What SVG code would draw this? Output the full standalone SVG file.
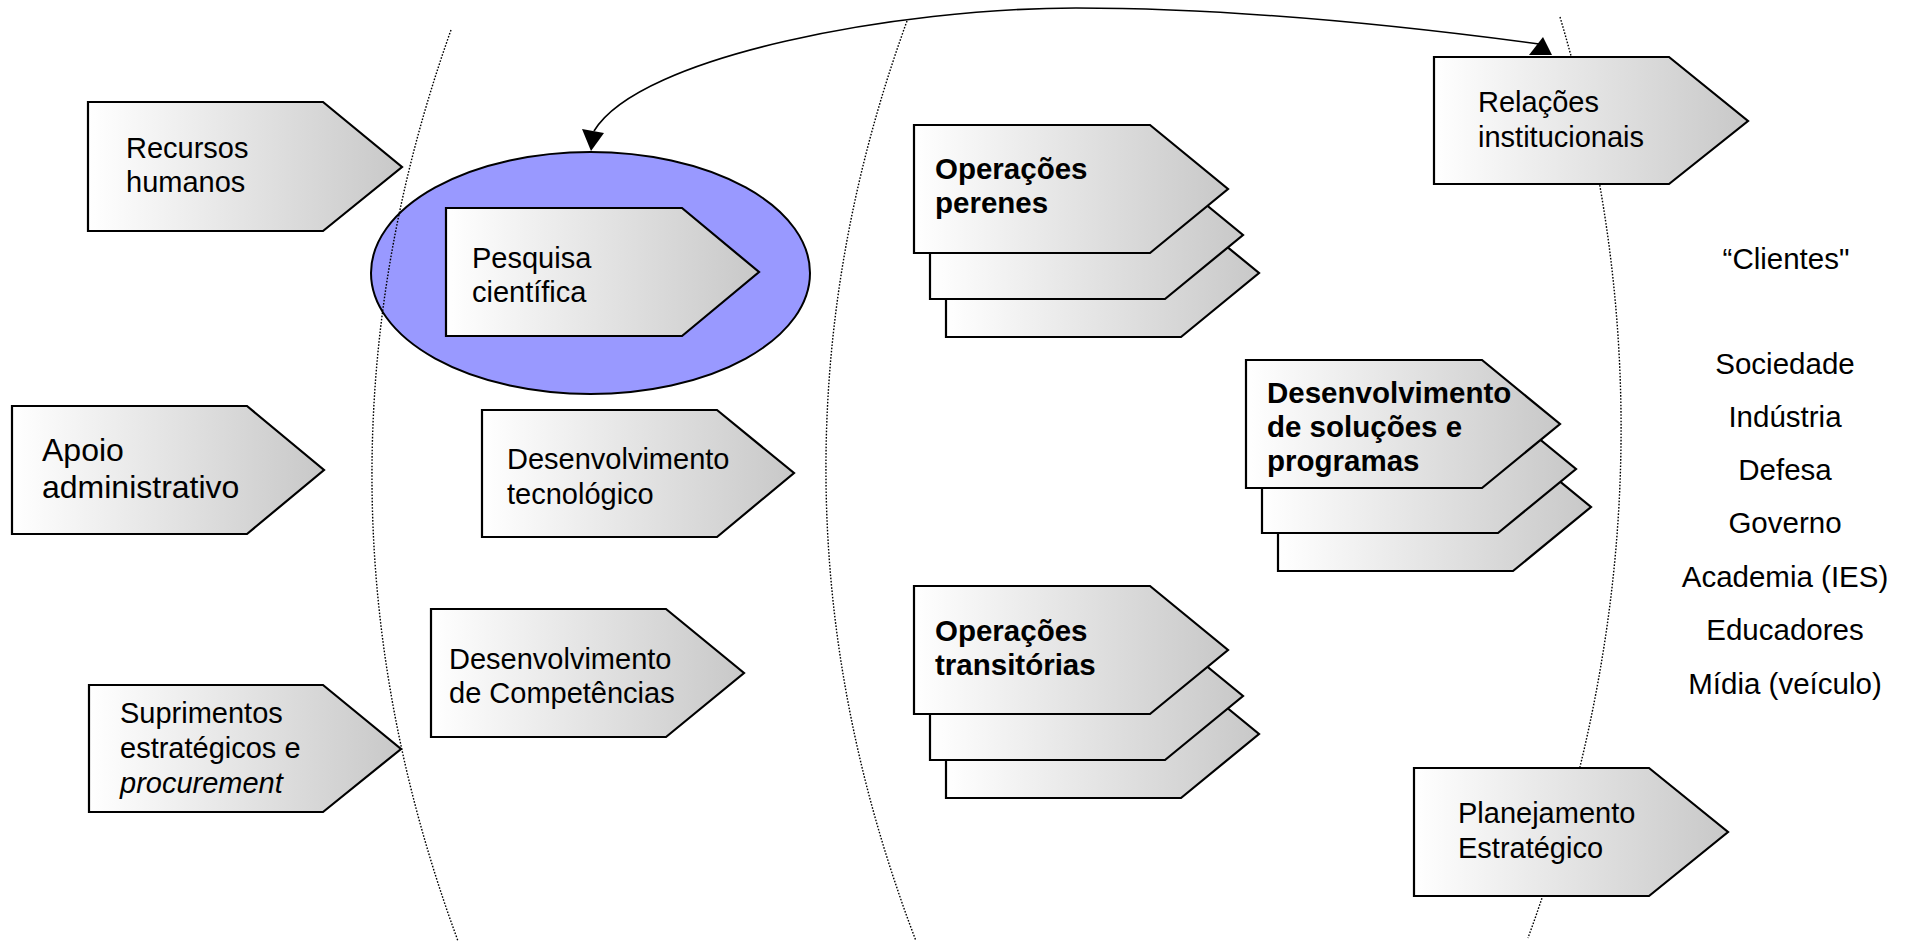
<svg xmlns="http://www.w3.org/2000/svg" width="1905" height="941" viewBox="0 0 1905 941">
<defs>
<linearGradient id="g" x1="0" y1="0" x2="1" y2="0">
<stop offset="0" stop-color="#ffffff"/>
<stop offset="1" stop-color="#c8c8c8"/>
</linearGradient>
<style>
.box{fill:url(#g);stroke:#000;stroke-width:2.2;stroke-linejoin:miter}
.t{font-family:"Liberation Sans",Arial,sans-serif;font-size:29px;fill:#000}
.b{font-weight:bold;font-size:29.5px}
.big{font-size:32px}
.cl{font-family:"Liberation Sans",Arial,sans-serif;font-size:29.5px;fill:#000;text-anchor:middle}
.dot{fill:none;stroke:#000;stroke-width:1.4;stroke-dasharray:1.6 1.6}
.con{fill:none;stroke:#000;stroke-width:1.6}
</style>
</defs>
<rect width="1905" height="941" fill="#fff"/>

<ellipse id="pesquisa-highlight" cx="590.5" cy="273" rx="219.5" ry="121" fill="#9999ff" stroke="#000" stroke-width="2"/>

<g id="separators">
<path class="dot" d="M451,30 Q289.5,484 458,941"/>
<path class="dot" d="M907,21 Q740.5,480 916,941"/>
<path class="dot" d="M1560,17 Q1696.5,476 1528,938"/>
</g>

<g id="recursos-humanos">
<polygon class="box" points="88,102 323,102 402,167 323,231 88,231"/>
<text class="t" x="126" y="158">Recursos</text>
<text class="t" x="126" y="192">humanos</text>
</g>

<g id="pesquisa-cientifica">
<polygon class="box" points="446,208 682,208 759,272 682,336 446,336"/>
<text class="t" x="472" y="268">Pesquisa</text>
<text class="t" x="472" y="302">científica</text>
</g>

<g id="apoio-administrativo">
<polygon class="box" points="12,406 247,406 324,470 247,534 12,534"/>
<text class="t big" x="42" y="461">Apoio</text>
<text class="t big" x="42" y="498">administrativo</text>
</g>

<g id="desenvolvimento-tecnologico">
<polygon class="box" points="482,410 717,410 794,473 717,537 482,537"/>
<text class="t" x="507" y="469">Desenvolvimento</text>
<text class="t" x="507" y="504">tecnológico</text>
</g>

<g id="suprimentos">
<polygon class="box" points="89,685 323,685 401,749 323,812 89,812"/>
<text class="t" x="120" y="723">Suprimentos</text>
<text class="t" x="120" y="758">estratégicos e</text>
<text class="t" x="120" y="793" font-style="italic">procurement</text>
</g>

<g id="desenvolvimento-competencias">
<polygon class="box" points="431,609 666,609 744,673 666,737 431,737"/>
<text class="t" x="449" y="669">Desenvolvimento</text>
<text class="t" x="449" y="703">de Competências</text>
</g>

<g id="operacoes-perenes">
<polygon class="box" points="946,209 1181,209 1259,273 1181,337 946,337"/>
<polygon class="box" points="930,171 1165,171 1243,235 1165,299 930,299"/>
<polygon class="box" points="914,125 1150,125 1228,189 1150,253 914,253"/>
<text class="t b" x="935" y="179">Operações</text>
<text class="t b" x="935" y="213">perenes</text>
</g>

<g id="operacoes-transitorias">
<polygon class="box" points="946,670 1181,670 1259,734 1181,798 946,798"/>
<polygon class="box" points="930,632 1165,632 1243,696 1165,760 930,760"/>
<polygon class="box" points="914,586 1150,586 1228,650 1150,714 914,714"/>
<text class="t b" x="935" y="641">Operações</text>
<text class="t b" x="935" y="675">transitórias</text>
</g>

<g id="desenvolvimento-solucoes">
<polygon class="box" points="1278,443 1513,443 1591,507 1513,571 1278,571"/>
<polygon class="box" points="1262,405 1498,405 1576,469 1498,533 1262,533"/>
<polygon class="box" points="1246,360 1482,360 1560,424 1482,488 1246,488"/>
<text class="t b" x="1267" y="403">Desenvolvimento</text>
<text class="t b" x="1267" y="437">de soluções e</text>
<text class="t b" x="1267" y="471">programas</text>
</g>

<g id="relacoes-institucionais">
<polygon class="box" points="1434,57 1669,57 1748,121 1669,184 1434,184"/>
<text class="t" x="1478" y="112">Relações</text>
<text class="t" x="1478" y="147">institucionais</text>
</g>

<g id="planejamento-estrategico">
<polygon class="box" points="1414,768 1649,768 1728,832 1649,896 1414,896"/>
<text class="t" x="1458" y="823">Planejamento</text>
<text class="t" x="1458" y="858">Estratégico</text>
</g>

<g id="clientes">
<text class="cl" x="1786" y="269">“Clientes"</text>
<text class="cl" x="1785" y="374">Sociedade</text>
<text class="cl" x="1785" y="427">Indústria</text>
<text class="cl" x="1785" y="480">Defesa</text>
<text class="cl" x="1785" y="533">Governo</text>
<text class="cl" x="1785" y="587">Academia (IES)</text>
<text class="cl" x="1785" y="640">Educadores</text>
<text class="cl" x="1785" y="694">Mídia (veículo)</text>
</g>

<g id="connectors">
<path class="con" d="M594,131 C640,55 900,8 1076,8 C1240,8 1420,28 1539,44"/>
<polygon points="582,129 604,133 591,151" fill="#000"/>
<polygon points="1543,37 1529,55 1552,55" fill="#000"/>
</g>
</svg>
